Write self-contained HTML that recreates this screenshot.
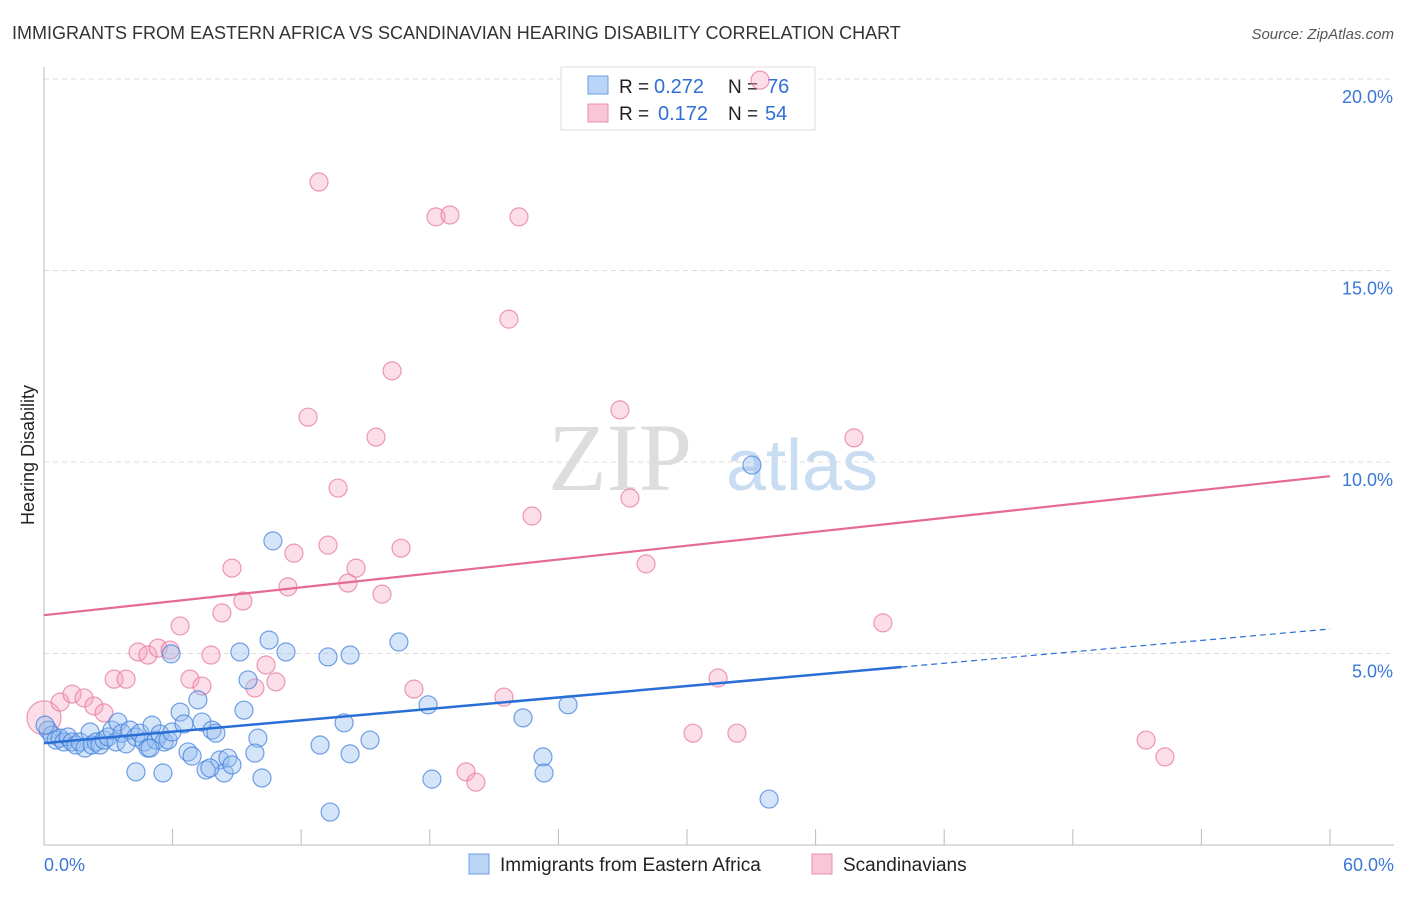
<!DOCTYPE html>
<html><head><meta charset="utf-8"><style>
body{margin:0;background:#fff;font-family:"Liberation Sans",sans-serif;}
svg text{font-family:"Liberation Sans",sans-serif;}
</style></head><body>
<svg id="chart" width="1406" height="892">
<text x="12" y="39" font-size="18" fill="#333">IMMIGRANTS FROM EASTERN AFRICA VS SCANDINAVIAN HEARING DISABILITY CORRELATION CHART</text>
<text x="1394" y="39" font-size="15" fill="#555" font-style="italic" text-anchor="end">Source: ZipAtlas.com</text>
<text x="620" y="490" font-size="96" fill="#ddd" text-anchor="middle" style="font-family:'Liberation Serif',serif">ZIP</text>
<text x="802" y="490" font-size="72" fill="#c8dcf2" text-anchor="middle">atlas</text>
<text transform="translate(34,455) rotate(-90)" font-size="18" fill="#222" text-anchor="middle">Hearing Disability</text>
<g id="grid"></g><g id="axes"></g>
<g>
<rect x="561" y="67" width="254" height="63" fill="#fff" stroke="#ddd"/>
<rect x="588" y="76" width="20" height="18" fill="#b9d4f5" stroke="#6d9fe0"/>
<rect x="588" y="104" width="20" height="18" fill="#f9c6d5" stroke="#ec8fae"/>
<text x="619" y="93" font-size="19" fill="#222">R =</text>
<text x="654" y="93" font-size="20" fill="#2f6fd6">0.272</text>
<text x="728" y="93" font-size="19" fill="#222">N =</text>
<text x="767" y="93" font-size="20" fill="#2f6fd6">76</text>
<text x="619" y="120" font-size="19" fill="#222">R =</text>
<text x="658" y="120" font-size="20" fill="#2f6fd6">0.172</text>
<text x="728" y="120" font-size="19" fill="#222">N =</text>
<text x="765" y="120" font-size="20" fill="#2f6fd6">54</text>
</g>
<g id="marks"></g><g id="lines"></g>
<g>
<rect x="469" y="854" width="20" height="20" fill="#b9d4f5" stroke="#6d9fe0"/>
<text x="500" y="871" font-size="19" fill="#222">Immigrants from Eastern Africa</text>
<rect x="812" y="854" width="20" height="20" fill="#f9c6d5" stroke="#ec8fae"/>
<text x="843" y="871" font-size="19" fill="#222">Scandinavians</text>
</g>
</svg>
<script>
const blueX=[0.19,0.37,0.56,0.75,0.93,1.12,1.31,1.49,1.68,1.91,2.15,2.24,2.43,2.61,2.80,2.99,3.17,3.36,3.45,3.64,3.83,4.01,4.29,4.48,4.67,4.85,5.04,5.23,5.41,5.60,5.79,5.97,6.35,6.53,6.72,6.91,7.18,7.37,7.56,7.84,8.02,8.21,8.40,8.58,8.77,4.29,5.55,5.93,9.14,9.52,9.33,9.98,10.17,10.50,10.68,11.29,12.88,13.25,13.35,14.00,14.28,14.28,15.21,16.56,17.92,18.10,22.35,23.28,23.33,24.45,33.03,33.83,7.74,9.84,0.05,4.95];
const blueY=[3.00,2.87,2.74,2.79,2.69,2.82,2.69,2.61,2.69,2.53,2.95,2.61,2.69,2.61,2.74,2.82,3.00,2.69,3.21,2.92,2.64,3.00,2.82,2.92,2.69,2.53,3.13,2.74,2.90,2.69,2.74,2.95,3.47,3.16,2.43,2.32,3.79,3.21,1.96,3.00,2.92,2.22,1.88,2.27,2.09,1.91,1.88,4.99,5.04,4.31,3.52,2.79,1.75,5.35,7.94,5.04,2.61,4.91,0.86,3.19,2.38,4.96,2.74,5.30,3.66,1.72,3.32,2.30,1.88,3.66,9.92,1.20,2.01,2.40,3.13,2.53];
const pinkX=[0,0.75,1.31,1.87,2.33,2.80,3.27,3.83,4.39,4.85,5.32,5.88,6.35,6.81,7.37,7.79,8.30,8.77,9.28,9.84,10.36,10.82,11.38,11.66,12.32,12.83,13.25,13.72,14.18,14.56,15.49,15.77,16.24,16.66,17.26,18.29,18.94,19.69,20.15,21.46,21.69,22.16,22.77,26.87,27.34,28.09,30.28,31.45,32.33,33.41,37.79,39.14,51.42,52.30];
const pinkY=[3.32,3.73,3.94,3.84,3.63,3.45,4.33,4.33,5.04,4.96,5.14,5.09,5.72,4.33,4.15,4.96,6.06,7.23,6.37,4.10,4.70,4.26,6.74,7.62,11.17,17.31,7.83,9.32,6.84,7.23,10.65,6.55,12.38,7.75,4.07,16.40,16.45,1.91,1.64,3.86,13.73,16.40,8.59,11.36,9.06,7.34,2.92,4.36,2.92,19.97,10.63,5.80,2.74,2.30];
const blueTrend=[2.66,5.64];
const blueSolidEnd=40;
const pinkTrend=[6.0,9.63];
const yTicks=[5,10,15,20];
const xTickLabels=["0.0%","60.0%"];
const NS="http://www.w3.org/2000/svg";
const X=v=>44+v/60*1286, Y=v=>845-v/5*191.5;
function mk(t,a,p){const e=document.createElementNS(NS,t);for(const k in a)e.setAttribute(k,a[k]);p.appendChild(e);return e;}
const grid=document.getElementById('grid'),axes=document.getElementById('axes'),marks=document.getElementById('marks'),lines=document.getElementById('lines');
yTicks.forEach(t=>{
 const g=mk('line',{x1:44,x2:1394,y1:Y(t),y2:Y(t),stroke:'#ddd','stroke-dasharray':'5,4'},grid);
 
 
 const l=mk('text',{x:1393,y:Y(t)+24,'font-size':18,fill:'#3a78d8','text-anchor':'end'},axes);
 l.textContent=t.toFixed(1)+'%';
 
 
});
mk('line',{x1:44,x2:44,y1:67,y2:845,stroke:'#bbb'},axes);
mk('line',{x1:44,x2:1394,y1:845,y2:845,stroke:'#bbb'},axes);
for(let i=0;i<=10;i++){const t=mk('line',{x1:X(i*6),x2:X(i*6),y1:829,y2:845,stroke:'#bbb'},axes);
 
 }
[[0,'start',44],[60,'end',1394]].forEach((d,i)=>{const l=mk('text',{x:d[2],y:871,'font-size':18,fill:'#3a78d8','text-anchor':d[1]},axes);l.textContent=xTickLabels[i];
 
 });
pinkX.forEach((x,i)=>{const c=mk('circle',{cx:X(x),cy:Y(pinkY[i]),r:i===0?17:9,fill:'rgba(245,160,190,0.35)',stroke:'rgba(230,120,160,0.75)','stroke-width':1.2},marks);
 
 });
blueX.forEach((x,i)=>{const c=mk('circle',{cx:X(x),cy:Y(blueY[i]),r:9,fill:'rgba(150,190,240,0.4)',stroke:'rgba(70,130,220,0.75)','stroke-width':1.2},marks);
 
 });
const by=x=>blueTrend[0]+(blueTrend[1]-blueTrend[0])*x/60;
const b1=mk('line',{x1:X(0),y1:Y(by(0)),x2:X(blueSolidEnd),y2:Y(by(blueSolidEnd)),stroke:'#2a6fd6','stroke-width':2.5},lines);


const b2=mk('line',{x1:X(blueSolidEnd),y1:Y(by(blueSolidEnd)),x2:X(60),y2:Y(by(60)),stroke:'#2a6fd6','stroke-width':1.2,'stroke-dasharray':'6,4'},lines);


const p1=mk('line',{x1:X(0),y1:Y(pinkTrend[0]),x2:X(60),y2:Y(pinkTrend[1]),stroke:'#e56a95','stroke-width':2.2},lines);


</script>
</body></html>
